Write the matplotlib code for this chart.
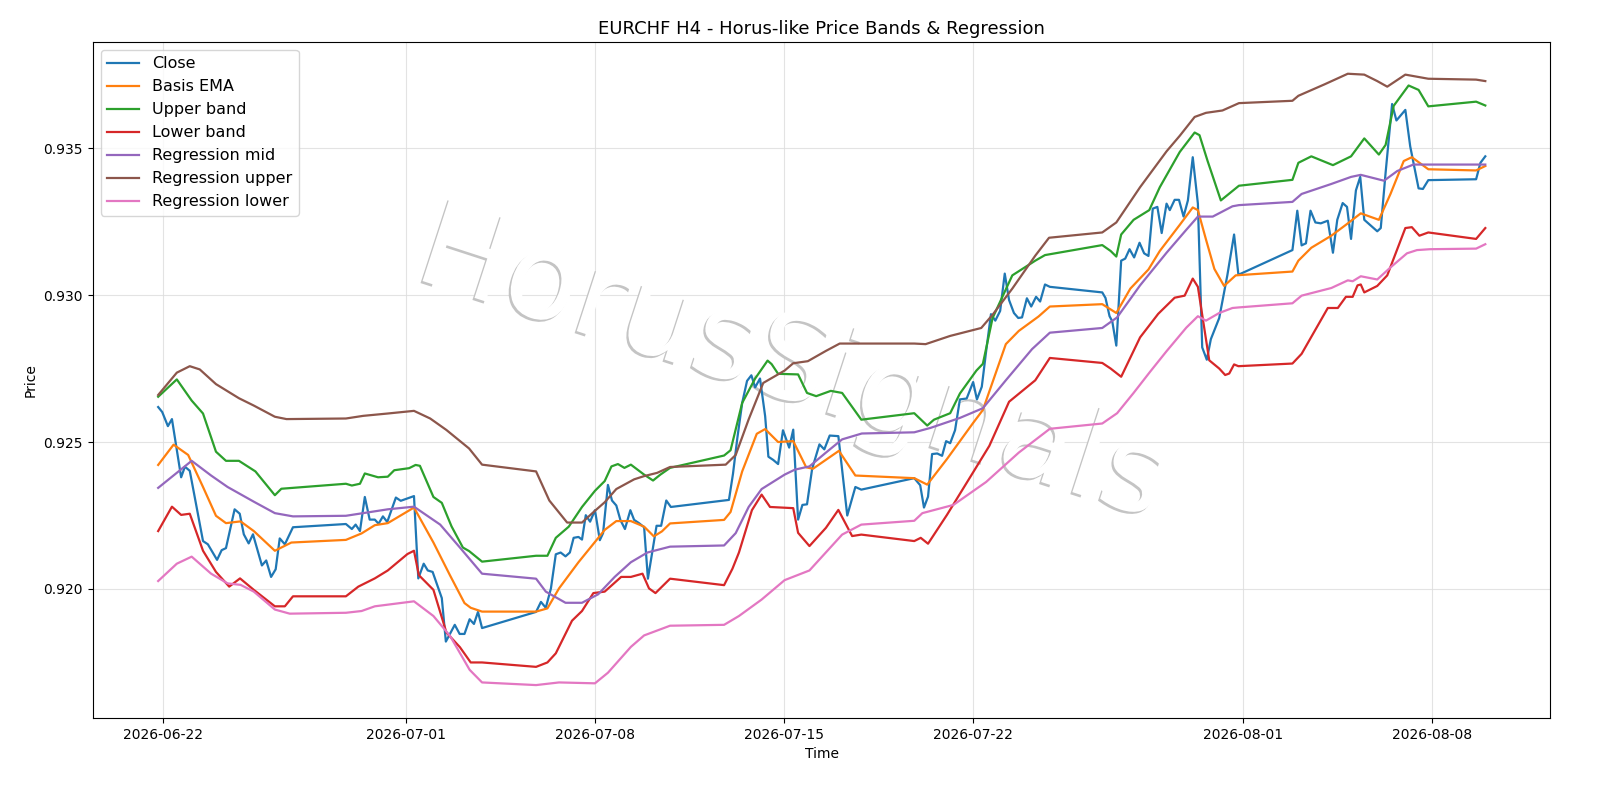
import matplotlib
matplotlib.use("Agg")
import matplotlib.pyplot as plt
import matplotlib.dates as mdates
import matplotlib.patheffects as pe
import pandas as pd

START = pd.Timestamp("2026-06-22")

close_days = [-0.17,-0.02,0.19,0.34,0.68,0.82,1.0,1.49,1.67,2.01,2.18,2.34,2.66,2.85,3.0,3.18,3.34,3.67,3.83,4.01,4.18,4.33,4.52,4.82,
    6.78,7.0,7.14,7.3,7.48,7.66,7.85,7.99,8.15,8.31,8.63,8.81,9.3,9.46,9.66,9.81,9.99,10.33,10.48,10.81,10.99,11.17,11.36,11.52,11.67,11.82,
    13.82,14.0,14.18,14.37,14.55,14.73,14.91,15.07,15.21,15.39,15.52,15.66,15.82,16.0,16.18,16.3,16.48,16.63,16.79,16.94,17.11,17.31,17.45,17.63,17.82,17.96,18.12,18.28,18.45,18.64,18.81,
    20.96,21.11,21.27,21.45,21.63,21.79,21.93,22.11,22.3,22.42,22.6,22.78,22.96,23.19,23.34,23.52,23.68,23.85,24.04,24.31,24.49,24.69,25.01,25.34,25.64,25.86,
    27.82,28.04,28.18,28.33,28.48,28.67,28.85,29.0,29.15,29.33,29.51,29.76,30.0,30.14,30.32,30.48,30.66,30.82,31.0,31.17,31.33,31.51,31.67,31.81,31.99,32.15,32.33,32.48,32.66,32.84,
    34.78,34.9,35.05,35.15,35.3,35.48,35.63,35.79,35.96,36.16,36.33,36.49,36.65,36.82,36.98,37.16,37.28,37.46,37.62,37.79,37.95,38.13,38.32,38.48,38.65,38.8,39.11,39.41,39.66,39.82,
    41.82,42.0,42.16,42.32,42.49,42.67,42.87,43.13,43.32,43.48,43.68,43.84,43.99,44.17,44.33,44.48,44.96,45.09,45.27,45.51,45.67,46.0,46.18,46.49,46.65,46.85,48.62,48.78,48.96]
close_vals = [0.92619,0.92602,0.92554,0.92578,0.92380,0.92416,0.92402,0.92163,0.92152,0.92099,0.92132,0.92139,0.92271,0.92256,0.92186,0.92155,0.92186,0.92080,0.92097,0.92041,0.92067,0.92172,0.92152,0.92210,
    0.92221,0.92204,0.92219,0.92197,0.92313,0.92236,0.92236,0.92222,0.92247,0.92228,0.92311,0.92300,0.92316,0.92036,0.92086,0.92063,0.92058,0.91969,0.91821,0.91878,0.91847,0.91847,0.91897,0.91881,0.91922,0.91867,
    0.91922,0.91956,0.91936,0.92002,0.92118,0.92124,0.92111,0.92124,0.92174,0.92177,0.92168,0.92251,0.92229,0.92268,0.92166,0.92190,0.92354,0.92301,0.92284,0.92235,0.92204,0.92268,0.92235,0.92224,0.92210,0.92035,0.92124,0.92215,0.92215,0.92301,0.92279,
    0.92303,0.92392,0.92513,0.92633,0.92708,0.92727,0.92686,0.92716,0.92588,0.92450,0.92439,0.92425,0.92540,0.92481,0.92542,0.92236,0.92286,0.92288,0.92409,0.92492,0.92475,0.92522,0.92520,0.92250,0.92347,0.92338,
    0.92377,0.92353,0.92277,0.92314,0.92459,0.92461,0.92453,0.92503,0.92496,0.92540,0.92645,0.92648,0.92704,0.92645,0.92688,0.92808,0.92935,0.92913,0.92946,0.93073,0.92983,0.92939,0.92922,0.92924,0.92989,0.92961,0.92994,0.92978,0.93036,0.93028,
    0.93009,0.92990,0.92928,0.92911,0.92828,0.93117,0.93124,0.93156,0.93128,0.93178,0.93142,0.93133,0.93294,0.93300,0.93211,0.93311,0.93289,0.93324,0.93324,0.93267,0.93322,0.93469,0.93311,0.92822,0.92780,0.92850,0.92922,0.93067,0.93206,0.93069,
    0.93153,0.93287,0.93169,0.93176,0.93287,0.93247,0.93244,0.93253,0.93144,0.93256,0.93313,0.93300,0.93191,0.93356,0.93402,0.93256,0.93217,0.93228,0.93417,0.93650,0.93594,0.93630,0.93506,0.93363,0.93361,0.93391,0.93394,0.93450,0.93472]

ema_days = [-0.17,0.4,0.94,1.49,1.97,2.34,2.88,3.37,4.15,4.76,6.78,7.36,7.85,8.33,9.3,10.02,10.63,11.17,11.4,11.82,13.82,14.24,14.67,15.39,16.0,16.36,16.79,17.33,17.82,18.18,18.48,18.78,20.78,21.02,21.45,21.99,22.3,22.78,23.34,23.82,24.07,25.03,25.64,27.82,28.3,29.03,30.0,30.36,31.21,31.69,32.42,32.84,34.78,35.3,35.82,36.49,36.91,37.65,38.13,38.32,38.62,38.93,39.29,39.72,41.82,42.04,42.52,43.26,43.8,44.35,45.02,45.45,45.94,46.24,46.85,48.62,48.96]
ema_vals = [0.92422,0.92491,0.92456,0.92347,0.92249,0.92224,0.92230,0.92197,0.92130,0.92158,0.92167,0.92189,0.92217,0.92224,0.92277,0.92158,0.92047,0.91952,0.91936,0.91923,0.91923,0.91934,0.92002,0.92091,0.92160,0.92201,0.92231,0.92231,0.92212,0.92179,0.92196,0.92223,0.92235,0.92262,0.92400,0.92528,0.92544,0.92500,0.92503,0.92414,0.92409,0.92470,0.92386,0.92377,0.92355,0.92442,0.92565,0.92609,0.92833,0.92878,0.92927,0.92961,0.92969,0.92939,0.93022,0.93087,0.93150,0.93239,0.93298,0.93289,0.93189,0.93089,0.93031,0.93067,0.93080,0.93117,0.93161,0.93202,0.93239,0.93278,0.93256,0.93344,0.93456,0.93469,0.93428,0.93424,0.93439]

upper_days = [-0.17,0.52,1.07,1.49,1.97,2.34,2.82,3.43,4.15,4.39,6.78,7.0,7.3,7.48,7.97,8.33,8.57,9.12,9.36,9.52,10.02,10.33,10.69,11.11,11.34,11.82,13.82,14.24,14.55,15.03,15.52,16.0,16.36,16.61,16.85,17.09,17.33,17.82,18.15,18.42,18.78,20.78,21.02,21.45,21.93,22.39,22.54,22.78,23.52,23.85,24.19,24.73,25.15,25.86,27.82,28.3,28.55,29.15,29.51,30.12,30.36,30.72,31.45,32.3,32.66,34.78,35.09,35.3,35.48,35.94,36.52,36.91,37.65,38.2,38.38,38.68,39.17,39.84,41.82,42.04,42.52,43.32,43.99,44.48,45.02,45.27,45.57,46.12,46.49,46.85,48.62,48.96]
upper_vals = [0.92654,0.92713,0.92641,0.92597,0.92467,0.92436,0.92436,0.92400,0.92319,0.92341,0.92358,0.92352,0.92358,0.92393,0.92380,0.92382,0.92404,0.92411,0.92422,0.92419,0.92313,0.92293,0.92213,0.92141,0.92129,0.92093,0.92113,0.92113,0.92174,0.92212,0.92279,0.92334,0.92367,0.92417,0.92425,0.92412,0.92423,0.92389,0.92369,0.92389,0.92412,0.92454,0.92472,0.92633,0.92716,0.92777,0.92765,0.92732,0.92730,0.92667,0.92656,0.92674,0.92667,0.92576,0.92598,0.92556,0.92576,0.92598,0.92665,0.92743,0.92766,0.92922,0.93067,0.93117,0.93136,0.93170,0.93150,0.93131,0.93206,0.93256,0.93289,0.93367,0.93487,0.93553,0.93544,0.93456,0.93322,0.93372,0.93392,0.93450,0.93472,0.93442,0.93472,0.93533,0.93478,0.93511,0.93644,0.93713,0.93698,0.93642,0.93658,0.93645]

lower_days = [-0.17,0.34,0.68,1.0,1.49,1.97,2.46,2.86,3.37,4.15,4.52,4.82,6.78,7.24,7.85,8.33,9.06,9.3,9.48,10.02,10.5,11.0,11.4,11.82,13.82,14.24,14.55,15.15,15.52,15.94,16.36,16.97,17.33,17.76,18.0,18.24,18.78,20.78,21.09,21.33,21.81,22.17,22.48,23.34,23.52,23.94,24.55,25.01,25.52,25.86,27.82,28.06,28.33,29.03,30.0,30.6,31.33,32.3,32.84,34.78,35.09,35.48,36.18,36.85,37.46,37.83,38.13,38.32,38.74,39.11,39.33,39.48,39.66,39.82,41.82,42.16,43.13,43.5,43.8,44.05,44.23,44.35,44.48,44.96,45.33,46.0,46.24,46.52,46.85,48.62,48.96]
lower_vals = [0.92197,0.92280,0.92252,0.92256,0.92130,0.92058,0.92008,0.92036,0.91997,0.91941,0.91941,0.91975,0.91975,0.92008,0.92036,0.92063,0.92119,0.92130,0.92047,0.91997,0.91852,0.91802,0.91750,0.91750,0.91735,0.91750,0.91781,0.91892,0.91925,0.91986,0.91991,0.92041,0.92041,0.92052,0.92002,0.91986,0.92035,0.92013,0.92069,0.92124,0.92268,0.92321,0.92279,0.92275,0.92191,0.92146,0.92208,0.92269,0.92180,0.92185,0.92163,0.92174,0.92154,0.92252,0.92397,0.92487,0.92637,0.92710,0.92786,0.92769,0.92750,0.92722,0.92856,0.92936,0.92991,0.92998,0.93056,0.93028,0.92778,0.92750,0.92728,0.92733,0.92764,0.92758,0.92767,0.92800,0.92956,0.92956,0.92994,0.92994,0.93033,0.93036,0.93009,0.93031,0.93067,0.93228,0.93231,0.93202,0.93213,0.93191,0.93228]

regmid_days = [-0.17,1.07,1.79,2.4,3.37,4.15,4.82,6.78,8.33,9.3,10.27,11.0,11.82,13.82,14.18,14.91,15.52,16.12,16.73,17.33,17.94,18.78,20.78,21.21,21.69,22.17,23.02,23.4,23.94,24.55,25.15,25.88,27.82,28.42,29.51,30.36,31.21,32.18,32.84,34.78,35.33,36.18,37.16,37.89,38.32,38.87,39.6,39.84,41.82,42.16,43.26,43.99,44.35,45.21,45.7,46.3,48.62,48.96]
regmid_vals = [0.92344,0.92436,0.92386,0.92347,0.92297,0.92258,0.92247,0.92249,0.92271,0.92280,0.92219,0.92141,0.92052,0.92035,0.91991,0.91953,0.91953,0.91982,0.92041,0.92091,0.92124,0.92144,0.92148,0.92190,0.92279,0.92340,0.92389,0.92406,0.92417,0.92464,0.92509,0.92529,0.92533,0.92548,0.92582,0.92615,0.92710,0.92816,0.92872,0.92888,0.92924,0.93033,0.93144,0.93222,0.93267,0.93267,0.93302,0.93306,0.93317,0.93344,0.93378,0.93402,0.93409,0.93389,0.93422,0.93444,0.93444,0.93444]

regup_days = [-0.17,0.52,1.0,1.37,1.97,2.82,3.37,4.15,4.58,6.78,7.42,8.33,9.3,9.9,10.5,11.34,11.82,13.82,14.31,14.97,15.52,16.0,16.36,16.79,17.45,17.82,18.3,18.78,20.84,21.21,21.69,22.23,23.02,23.34,23.88,24.55,25.06,27.82,28.24,29.15,30.3,30.72,31.45,32.3,32.81,34.78,35.3,36.18,37.16,37.65,38.2,38.62,39.23,39.84,41.82,42.04,43.01,43.87,44.48,44.96,45.33,46.0,46.85,48.62,48.96]
regup_vals = [0.92660,0.92736,0.92758,0.92747,0.92697,0.92649,0.92624,0.92586,0.92578,0.92580,0.92589,0.92597,0.92606,0.92580,0.92541,0.92478,0.92423,0.92400,0.92301,0.92226,0.92226,0.92266,0.92295,0.92340,0.92373,0.92384,0.92395,0.92415,0.92423,0.92456,0.92577,0.92701,0.92743,0.92768,0.92775,0.92810,0.92835,0.92835,0.92833,0.92861,0.92888,0.92933,0.93022,0.93134,0.93195,0.93213,0.93247,0.93367,0.93489,0.93542,0.93606,0.93620,0.93628,0.93653,0.93661,0.93678,0.93717,0.93753,0.93750,0.93728,0.93709,0.93750,0.93736,0.93733,0.93728]

reglo_days = [-0.17,0.52,1.07,1.79,2.4,2.88,3.37,4.15,4.7,6.78,7.36,7.85,9.3,10.02,10.63,11.36,11.82,13.82,14.67,16.0,16.48,17.33,17.82,18.78,20.78,21.33,22.17,23.02,23.94,25.15,25.86,27.82,28.12,29.27,30.48,31.69,32.84,34.78,35.33,35.94,36.55,37.16,37.89,38.32,38.62,39.11,39.6,39.84,41.82,42.16,43.26,43.87,44.05,44.35,44.96,45.45,46.06,46.43,46.91,48.62,48.96]
reglo_vals = [0.92027,0.92086,0.92110,0.92052,0.92019,0.92014,0.91991,0.91930,0.91916,0.91919,0.91925,0.91941,0.91958,0.91908,0.91841,0.91725,0.91682,0.91673,0.91682,0.91679,0.91715,0.91803,0.91842,0.91875,0.91878,0.91908,0.91964,0.92030,0.92063,0.92185,0.92219,0.92232,0.92258,0.92286,0.92364,0.92464,0.92545,0.92563,0.92598,0.92667,0.92739,0.92809,0.92889,0.92928,0.92913,0.92939,0.92956,0.92958,0.92972,0.92998,0.93024,0.93050,0.93047,0.93064,0.93053,0.93094,0.93142,0.93153,0.93156,0.93158,0.93173]

tick_dates = ["2026-06-22", "2026-07-01", "2026-07-08", "2026-07-15", "2026-07-22", "2026-08-01", "2026-08-08"]

def to_t(days):
    return START + pd.to_timedelta(days, unit="D")

series = [
    ("Close", close_days, close_vals, "#1f77b4"),
    ("Basis EMA", ema_days, ema_vals, "#ff7f0e"),
    ("Upper band", upper_days, upper_vals, "#2ca02c"),
    ("Lower band", lower_days, lower_vals, "#d62728"),
    ("Regression mid", regmid_days, regmid_vals, "#9467bd"),
    ("Regression upper", regup_days, regup_vals, "#8c564b"),
    ("Regression lower", reglo_days, reglo_vals, "#e377c2"),
]

fig = plt.figure(figsize=(16, 8), dpi=100)
ax = fig.add_axes([0.058, 0.1025, 0.911, 0.845])
for name, d, v, c in series:
    ax.plot(to_t(d), v, color=c, lw=1.6, label=name, zorder=3)

ax.text(0.48, 0.52, "HorusSignals", transform=ax.transAxes, fontsize=86,
        color="white", rotation=-18, ha="center", va="center", zorder=1,
        path_effects=[pe.withSimplePatchShadow(offset=(-1.5, -1.5), shadow_rgbFace="#c4c4c4", alpha=1.0)])

ax.set_xlim(to_t(-2.59), to_t(51.37))
ax.set_ylim(0.91561, 0.93861)
ax.set_xticks(pd.to_datetime(tick_dates))
ax.xaxis.set_major_formatter(mdates.DateFormatter("%Y-%m-%d"))
ax.set_yticks([0.920, 0.925, 0.930, 0.935])
ax.grid(True, color="#dddddd", lw=0.8, alpha=0.8, zorder=0)
ax.set_axisbelow(True)
ax.set_title("EURCHF H4 - Horus-like Price Bands & Regression", fontsize=13)
ax.set_xlabel("Time")
ax.set_ylabel("Price")
ax.legend(loc="upper left", fontsize=11.5)
fig.savefig("out.png", dpi=100)
